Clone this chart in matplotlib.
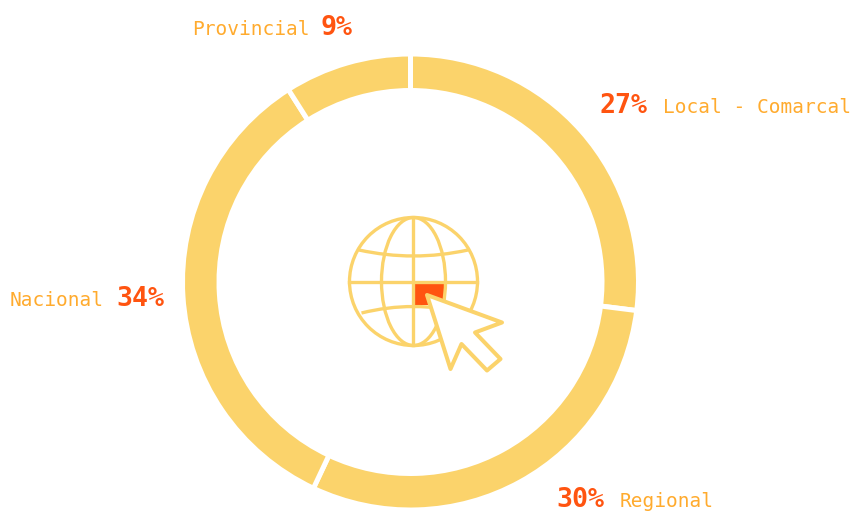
import numpy as np
import matplotlib
matplotlib.use("Agg")
import matplotlib.pyplot as plt
from matplotlib.patches import Circle, Ellipse, Polygon, Rectangle
from matplotlib.path import Path
from matplotlib.patches import PathPatch

categories = ["Local - Comarcal", "Regional", "Nacional", "Provincial"]
values = [27, 30, 34, 9]

YEL = "#FBD36B"
ORG = "#FFAB2E"
RED = "#FF5410"
H = 512

fig = plt.figure(figsize=(8.54, 5.12), dpi=100)
ax = fig.add_axes([0, 0, 1, 1])
ax.pie(values, startangle=90, counterclock=False, center=(410.5, H - 282), radius=228,
       colors=[YEL] * 4, wedgeprops=dict(width=36.5, edgecolor="white", linewidth=3.6))
ax.set_xlim(0, 854)
ax.set_ylim(0, H)
ax.set_aspect("equal")
ax.axis("off")

def Y(y):
    return H - y

# icon
lw = 2.4
ax.add_patch(Rectangle((415, Y(305)), 29, 21, fc=RED, ec="none", zorder=3))
ax.add_patch(Circle((413.5, Y(281.5)), 64, fc="none", ec=YEL, lw=lw, zorder=4))
ax.add_patch(Ellipse((413.5, Y(281.5)), 64, 128, fc="none", ec=YEL, lw=lw, zorder=4))
ax.plot([413.5, 413.5], [Y(218), Y(345)], color=YEL, lw=lw, zorder=4)
ax.plot([349.5, 477.5], [Y(281.5), Y(281.5)], color=YEL, lw=lw, zorder=4)
for a, b, c in [((359, 250), (413.5, 256), (468, 250)), ((361.5, 313), (413.5, 306.5), (466, 313))]:
    p = Path([(a[0], Y(a[1])), (b[0], Y(2 * b[1] - (a[1] + c[1]) / 2)), (c[0], Y(c[1]))],
             [Path.MOVETO, Path.CURVE3, Path.CURVE3])
    ax.add_patch(PathPatch(p, fc="none", ec=YEL, lw=lw, zorder=4))
cursor = [(427, 295), (502, 322.5), (475, 332.5), (500.5, 359), (487, 370.5),
          (461.5, 344), (450.5, 369)]
ax.add_patch(Polygon([(x, Y(y)) for x, y in cursor], closed=True, fc="white", ec=YEL,
                     lw=2.9, joinstyle="round", zorder=5))

# labels
mono = "DejaVu Sans Mono"
def lab(x, y, s, bold=False):
    ax.text(x, Y(y), s, family=mono, fontsize=19.2 if bold else 14,
            fontweight="bold" if bold else "normal", color=RED if bold else ORG,
            ha="left", va="baseline", zorder=6)

lab(192, 35, categories[3])
lab(321, 35, f"{values[3]}%", True)
lab(600, 113, f"{values[0]}%", True)
lab(663, 113, categories[0])
lab(10, 306, categories[2])
lab(116, 306, f"{values[2]}%", True)
lab(556, 507, f"{values[1]}%", True)
lab(620, 507, categories[1])

fig.savefig("out.png", dpi=100, facecolor="white")
